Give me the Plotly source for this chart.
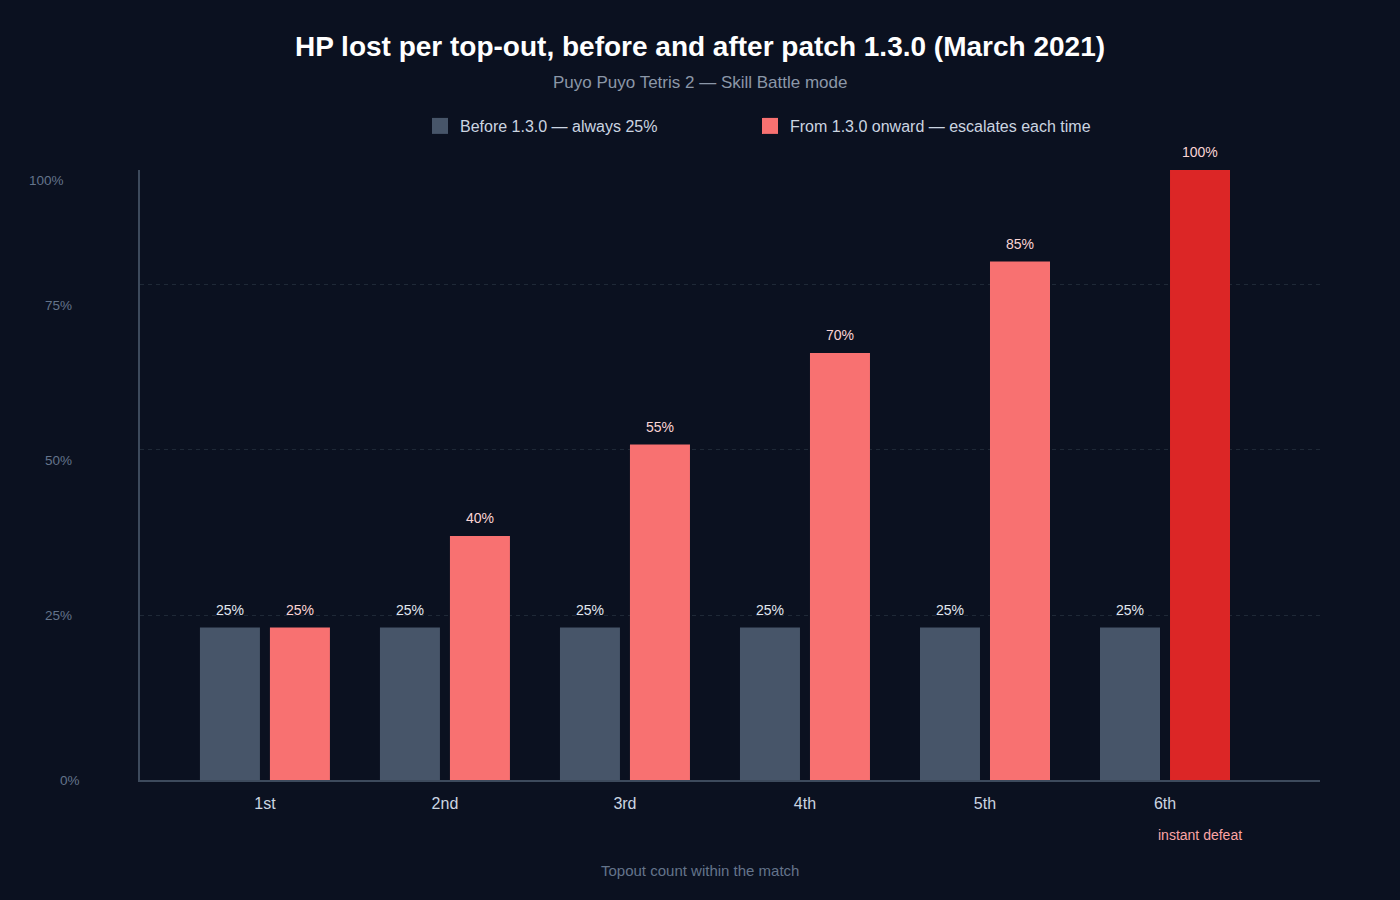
import plotly.graph_objects as go

# ---- data ----
categories = ["1st", "2nd", "3rd", "4th", "5th", "6th"]
before_vals = [25, 25, 25, 25, 25, 25]
after_vals = [25, 40, 55, 70, 85, 100]
before_name = "Before 1.3.0 — always 25%"
after_name = "From 1.3.0 onward — escalates each time"
y_tick_labels = ["0%", "25%", "50%", "75%", "100%"]
note_text = "instant defeat"

# ---- style ----
BG = "#0b1120"
GRAY = "#475569"
RED = "#f87171"
DARK_RED = "#dc2626"
FONT = "Liberation Sans, Arial, Helvetica, sans-serif"

W, H = 1400, 900
L, R, T, B = 140, 80, 170, 120
PW, PH = W - L - R, H - T - B


def px_x(px):
    return (px - L) / PW


def px_y(py):
    return (H - B - py) / PH


after_colors = [DARK_RED if v >= 100 else RED for v in after_vals]

fig = go.Figure()
fig.add_trace(go.Bar(x=categories, y=before_vals, name=before_name,
                     marker=dict(color=GRAY, line=dict(width=0)),
                     showlegend=False, hoverinfo="skip"))
fig.add_trace(go.Bar(x=categories, y=after_vals, name=after_name,
                     marker=dict(color=after_colors, line=dict(width=0)),
                     showlegend=False, hoverinfo="skip"))
# legend entries (larger square swatches)
fig.add_trace(go.Scatter(x=[None], y=[None], mode="markers", name=before_name,
                         marker=dict(symbol="square", size=22, color=GRAY,
                                     line=dict(width=0)),
                         legend="legend"))
fig.add_trace(go.Scatter(x=[None], y=[None], mode="markers", name=after_name,
                         marker=dict(symbol="square", size=22, color=RED,
                                     line=dict(width=0)),
                         legend="legend2"))

annotations = []
# value labels above bars
for c, v in zip(categories, before_vals):
    annotations.append(dict(x=c, y=v, xref="x", yref="y", text=f"{v}%",
                            showarrow=False, xshift=-35, yshift=18,
                            yanchor="middle",
                            font=dict(family=FONT, size=14, color="#e2e8f0")))
for c, v in zip(categories, after_vals):
    annotations.append(dict(x=c, y=v, xref="x", yref="y", text=f"{v}%",
                            showarrow=False, xshift=35, yshift=18,
                            yanchor="middle",
                            font=dict(family=FONT, size=14, color="#fbd5d5")))

# note under the last category
annotations.append(dict(x=categories[-1], y=px_y(835), xref="x", yref="paper",
                        text=note_text, showarrow=False, xshift=35,
                        yanchor="middle",
                        font=dict(family=FONT, size=14, color="#fca5a5")))

# y tick labels (as drawn in the reference)
tick_label_pos = [(70, 780), (58, 615), (58, 460), (58, 305), (47, 180)]
for lab, (lx, ly) in zip(y_tick_labels, tick_label_pos):
    annotations.append(dict(x=px_x(lx), y=px_y(ly), xref="paper", yref="paper",
                            text=lab, showarrow=False, xanchor="center",
                            yanchor="middle",
                            font=dict(family=FONT, size=13.5, color="#64748b")))

# subtitle
annotations.append(dict(x=px_x(700), y=px_y(82), xref="paper", yref="paper",
                        text="Puyo Puyo Tetris 2 — Skill Battle mode",
                        showarrow=False, xanchor="center", yanchor="middle",
                        font=dict(family=FONT, size=17, color="#8b97a8")))

# x axis title
annotations.append(dict(x=px_x(700), y=px_y(870), xref="paper", yref="paper",
                        text="Topout count within the match",
                        showarrow=False, xanchor="center", yanchor="middle",
                        font=dict(family=FONT, size=15, color="#64748b")))

legend_common = dict(orientation="h", yanchor="middle", xanchor="left",
                     itemsizing="trace", bgcolor="rgba(0,0,0,0)",
                     font=dict(family=FONT, size=16, color="#cbd5e1"))

fig.update_layout(
    width=W, height=H,
    paper_bgcolor=BG, plot_bgcolor=BG,
    margin=dict(l=L, r=R, t=T, b=B, autoexpand=False),
    barmode="group",
    bargap=40 / 180,
    bargroupgap=10 / 70,
    title=dict(text="<b>HP lost per top-out, before and after patch 1.3.0 (March 2021)</b>",
               x=0.5, xref="container", xanchor="center",
               y=1 - 46 / H, yref="container", yanchor="middle",
               font=dict(family=FONT, size=28, color="#ffffff")),
    legend=dict(x=px_x(420), y=px_y(126), **legend_common),
    legend2=dict(x=px_x(750), y=px_y(126), **legend_common),
    xaxis=dict(range=[-0.694, 5.861], showgrid=False, zeroline=False,
               showline=True, linecolor="#3d4a5c", linewidth=2,
               ticks="", ticklabelstandoff=8,
               tickfont=dict(family=FONT, size=16, color="#cbd5e1")),
    yaxis=dict(range=[0, 100], tickvals=[27.05, 54.1, 81.15],
               showticklabels=False, showgrid=True, gridcolor="#1f2937",
               griddash="4px,4px", gridwidth=1, zeroline=False,
               showline=True, linecolor="#3d4a5c", linewidth=2, ticks=""),
    annotations=annotations,
    showlegend=True,
)

fig.write_html(
    "out.html",
    config={"displayModeBar": False},
    post_script="document.body.style.margin='0';"
                "document.body.style.background='#0b1120';",
)
